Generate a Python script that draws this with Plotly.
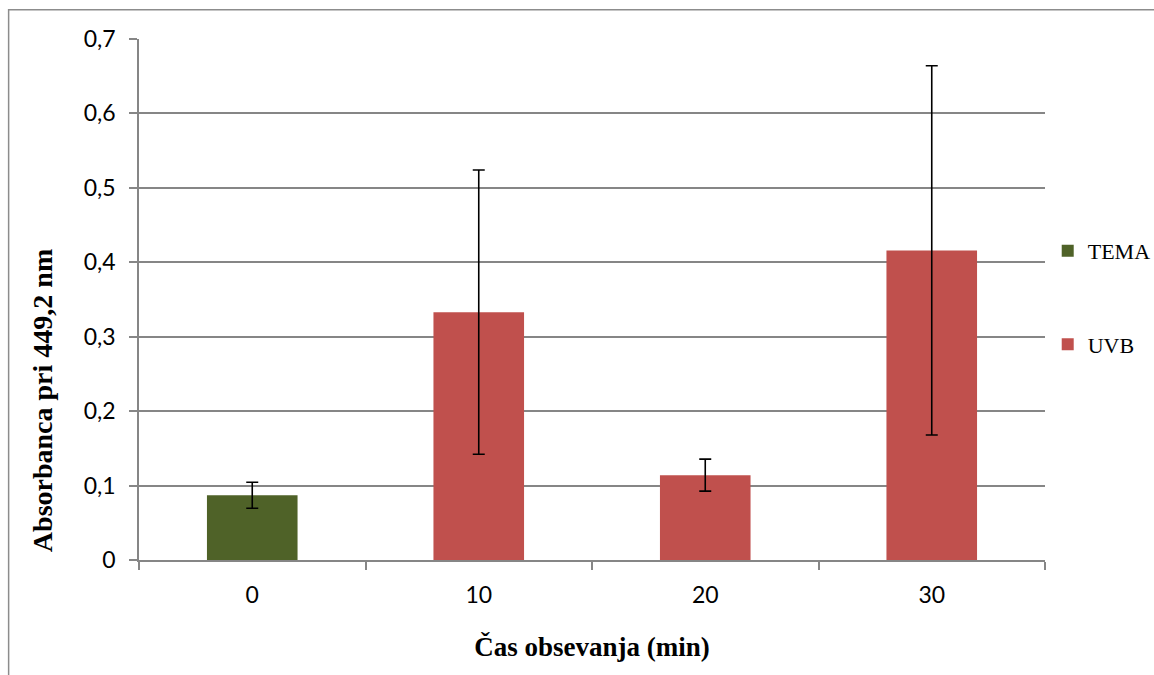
import plotly.graph_objects as go

categories = ["0", "10", "20", "30"]
tema_x = ["0"]
tema_y = [0.087]
tema_err = [0.0175]
uvb_x = ["10", "20", "30"]
uvb_y = [0.333, 0.114, 0.416]
uvb_err = [0.191, 0.0215, 0.248]
y_ticks = [0, 0.1, 0.2, 0.3, 0.4, 0.5, 0.6, 0.7]
y_tick_labels = ["0", "0,1", "0,2", "0,3", "0,4", "0,5", "0,6", "0,7"]
x_title = "Čas obsevanja (min)"
y_title = "Absorbanca pri 449,2 nm"

fig = go.Figure()
fig.add_trace(go.Bar(
    x=tema_x, y=tema_y, name="TEMA", width=0.4,
    marker=dict(color="#4F6228", line=dict(width=0)),
    error_y=dict(type="data", array=tema_err, visible=True, color="black", thickness=1.6, width=6),
    legendgroup="a",
))
fig.add_trace(go.Bar(
    x=uvb_x, y=uvb_y, name="UVB", width=0.4,
    marker=dict(color="#C0504D", line=dict(width=0)),
    error_y=dict(type="data", array=uvb_err, visible=True, color="black", thickness=1.6, width=6),
    legendgroup="b",
))

fig.update_layout(
    width=1154, height=675,
    margin=dict(l=139, r=109, t=39, b=115, autoexpand=False),
    paper_bgcolor="white", plot_bgcolor="white",
    barmode="overlay",
    showlegend=True,
    legend=dict(x=1.003, y=0.503, xanchor="left", yanchor="middle",
                font=dict(family="Liberation Serif", size=22, color="black"),
                tracegroupgap=62, itemwidth=30, bgcolor="rgba(0,0,0,0)"),
    shapes=[dict(type="rect", xref="paper", yref="paper",
                 x0=-0.1439, x1=1.2, y0=1.0563, y1=-0.3,
                 line=dict(color="#8C8C8C", width=1.5), fillcolor="rgba(0,0,0,0)", layer="below")],
    annotations=[dict(text="<b>" + y_title + "</b>", textangle=-90, xref="paper", yref="paper",
                      x=-0.107, y=0.305, xanchor="center", yanchor="middle", showarrow=False,
                      font=dict(family="Liberation Serif", size=28, color="black"))],
)
fig.update_xaxes(
    type="category", categoryorder="array", categoryarray=categories,
    range=[-0.5, 3.5],
    showline=True, linecolor="#868686", linewidth=1.5,
    ticks="outside", tickson="boundaries", ticklen=8, tickcolor="#868686", tickwidth=1.5,
    showgrid=False, ticklabelstandoff=14,
    tickfont=dict(family="Lato", size=23, color="black"),
    title=dict(text="<b>" + x_title + "</b>", font=dict(family="Liberation Serif", size=27, color="black"), standoff=30),
)
fig.update_yaxes(
    range=[0, 0.7], tickvals=y_ticks, ticktext=y_tick_labels,
    showline=True, linecolor="#868686", linewidth=1.5,
    ticks="outside", ticklen=8, tickcolor="#868686", tickwidth=1.5,
    showgrid=True, gridcolor="#868686", gridwidth=1.5,
    zeroline=False, ticklabelstandoff=9,
    tickfont=dict(family="Lato", size=23, color="black"),
)

fig.write_html("out.html")
